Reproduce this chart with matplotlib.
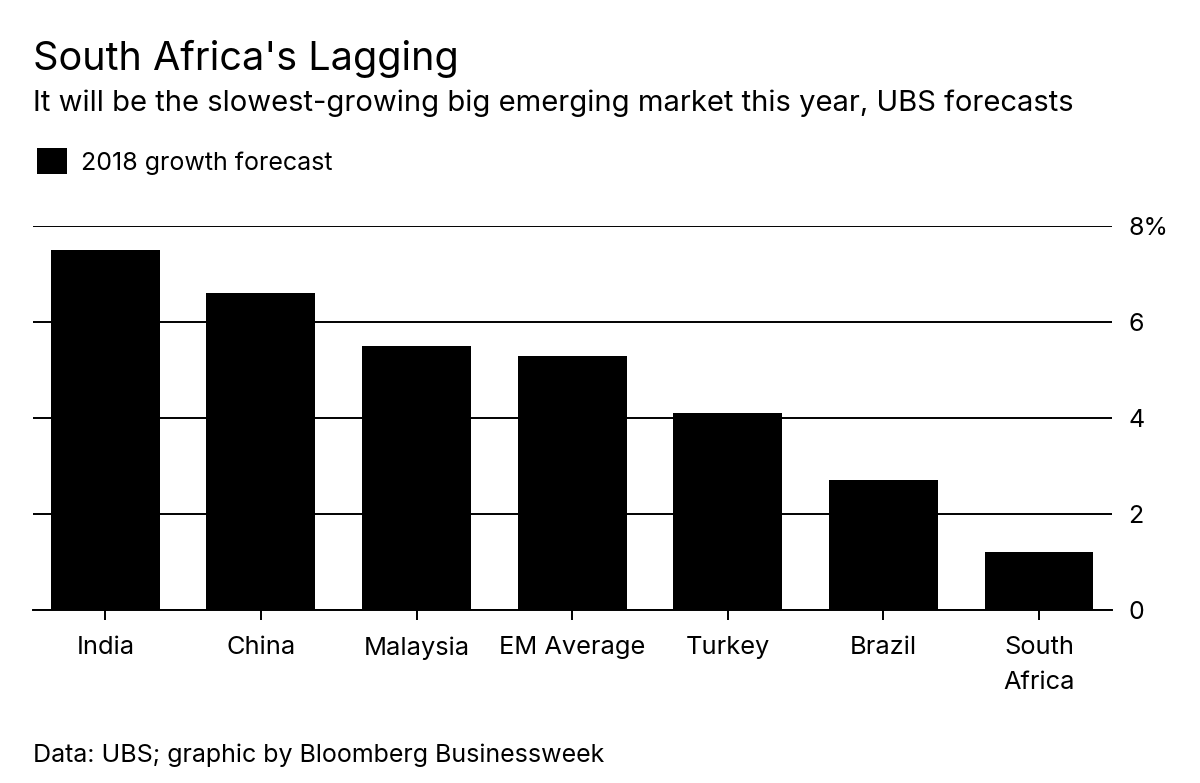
import matplotlib
matplotlib.use("Agg")
import matplotlib.pyplot as plt

categories = ["India", "China", "Malaysia", "EM Average", "Turkey", "Brazil", "South\nAfrica"]
growth_2018 = [7.5, 6.6, 5.5, 5.3, 4.1, 2.7, 1.2]
y_ticks = [0, 2, 4, 6, 8]
y_tick_labels = ["0", "2", "4", "6", "8%"]

plt.rcParams["font.family"] = ["Inter", "DejaVu Sans"]

W, H = 1200, 783
fig = plt.figure(figsize=(12, 7.83), dpi=100)
ax = fig.add_axes([33.3 / W, 1 - 609.7 / H, (1111.7 - 33.3) / W, (609.7 - 226.3) / H])

x = list(range(len(categories)))
bars = ax.bar(x, growth_2018, width=0.70, color="black", label="2018 growth forecast", zorder=3)

ax.set_xlim(-0.463, 6.467)
ax.set_ylim(0, 8)
ax.set_xticks(x)
ax.set_xticklabels(categories, fontsize=18.3, linespacing=1.68)
ax.set_yticks(y_ticks)
ax.set_yticklabels(y_tick_labels, fontsize=18)
ax.yaxis.tick_right()
ax.tick_params(axis="y", length=0, pad=12)
ax.tick_params(axis="x", length=7, width=1.4, color="black", pad=12, labelcolor="black")
for s in ["top", "left", "right"]:
    ax.spines[s].set_visible(False)
ax.spines["bottom"].set_linewidth(1.4)
ax.spines["bottom"].set_zorder(4)
ax.grid(axis="y", color="black", linewidth=1.4, zorder=1)
ax.set_axisbelow(True)

fig.text(33 / W, 1 - 70 / H, "South Africa's Lagging", fontsize=28.5, ha="left", va="baseline")
fig.text(33 / W, 1 - 110.7 / H, "It will be the slowest-growing big emerging market this year, UBS forecasts",
         fontsize=21, ha="left", va="baseline")
fig.text(33 / W, 1 - 761.7 / H, "Data: UBS; graphic by Bloomberg Businessweek", fontsize=18, ha="left", va="baseline")

fig.legend(handles=[bars], labels=["2018 growth forecast"], loc="upper left",
           bbox_to_anchor=(36.7 / W, 1 - 148.3 / H), bbox_transform=fig.transFigure,
           frameon=False, fontsize=18, handlelength=1.2, handleheight=1.2,
           handletextpad=0.58, borderpad=0, borderaxespad=0)

fig.savefig("out.png", dpi=100)
